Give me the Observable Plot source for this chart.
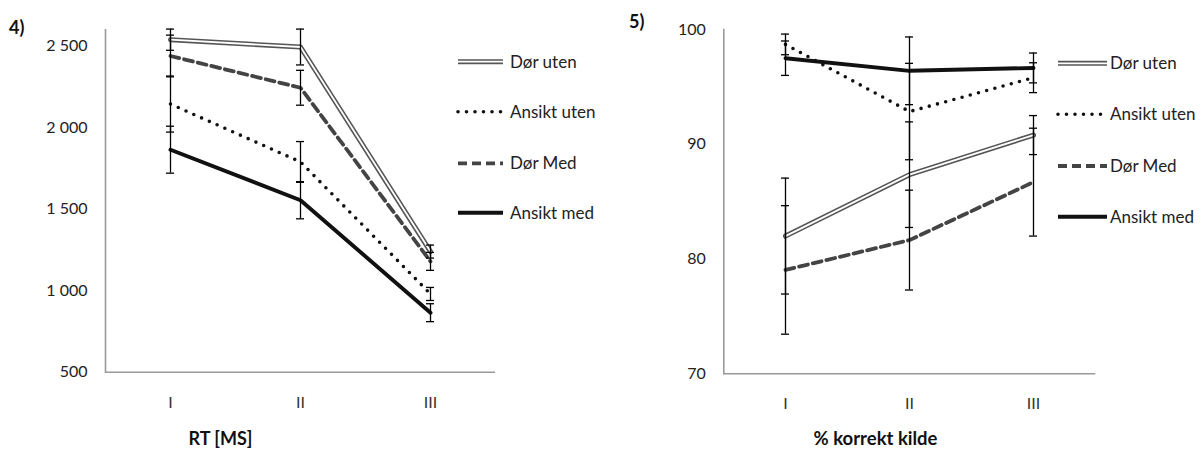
<!DOCTYPE html>
<html><head><meta charset="utf-8">
<script src="https://cdn.jsdelivr.net/npm/d3@7"></script>
<script src="https://cdn.jsdelivr.net/npm/@observablehq/plot@0.6"></script>
<style>
body{margin:0;background:#fff;}
#wrap{position:relative;width:1202px;height:450px;overflow:hidden;font-family:Lato,"Open Sans",sans-serif;background:#fff;}
#wrap > svg{position:absolute;top:0;}
</style></head><body><div id="wrap"></div>
<script>
// ---- data ----
const categories = ["I", "II", "III"];
const seriesNames = ["Dør uten", "Ansikt uten", "Dør Med", "Ansikt med"];

// Chart 4) RT [MS]
const rtDorUten    = [2540, 2495, 1240];
const rtAnsiktUten = [2145, 1790, 980];
const rtDorMed     = [2440, 2245, 1180];
const rtAnsiktMed  = [1865, 1555, 865];
const rtErrDorUten    = [65, 110, 40];
const rtErrAnsiktUten = [172, 125, 40];
const rtErrDorMed     = [128, 107, 55];
const rtErrAnsiktMed  = [144, 114, 55];
const rtTicks = [500, 1000, 1500, 2000, 2500];
const rtDomain = [500, 2600];

// Chart 5) % korrekt kilde
const pkDorUten    = [82.0, 87.35, 90.8];
const pkAnsiktUten = [98.7, 92.85, 95.8];
const pkDorMed     = [79.05, 81.65, 86.7];
const pkAnsiktMed  = [97.5, 96.4, 96.65];
const pkErrDorUten    = [5.05, 4.6, 1.7];
const pkErrAnsiktUten = [0.9, 4.2, 1.3];
const pkErrDorMed     = [5.6, 4.35, 4.7];
const pkErrAnsiktMed  = [1.5, 2.95, 1.3];
const pkTicks = [70, 80, 90, 100];
const pkDomain = [70, 100];

// ---- styles ----
const styles = {
  "Dør uten":    [{stroke: "#555", strokeWidth: 5}, {stroke: "#fff", strokeWidth: 1.8}],
  "Ansikt uten": [{stroke: "#111", strokeWidth: 3.6, strokeDasharray: "0 8.5", strokeLinecap: "round"}],
  "Dør Med":     [{stroke: "#444", strokeWidth: 3.8, strokeDasharray: "9 5"}],
  "Ansikt med":  [{stroke: "#111", strokeWidth: 3.9}]
};

function tidy(valueArrays, errArrays) {
  const rows = [];
  seriesNames.forEach((s, si) => {
    categories.forEach((c, ci) => {
      rows.push({series: s, cat: c, v: valueArrays[si][ci], e: errArrays[si][ci]});
    });
  });
  return rows;
}

const nb = d3.formatLocale({decimal: ",", thousands: "\u00a0", grouping: [3], currency: ["", ""]});
const fmtThousands = nb.format(",d");

function makeChart({rows, yDomain, yTicks, tickFormat, width, marginLeft, marginRight, marginTop, marginBottom, bandPx}) {
  const step = (width - marginLeft - marginRight) / categories.length;
  const pi = 1 - bandPx / step;
  const marks = [
    Plot.ruleY([yDomain[0]], {stroke: "#9a9a9a", strokeWidth: 1.6}),
    Plot.frame({anchor: "left", stroke: "#9a9a9a", strokeWidth: 1.6}),
    Plot.axisY({ticks: yTicks, tickSize: 0, tickPadding: 18, tickFormat, fill: "#222", fontSize: 16}),
    Plot.axisX({tickSize: 0, tickPadding: 24, fill: "#333", fontSize: 16})
  ];
  for (const s of seriesNames) {
    const data = rows.filter(d => d.series === s);
    for (const st of styles[s]) {
      marks.push(Plot.line(data, {x: "cat", y: "v", strokeLinejoin: "round", ...st}));
    }
  }
  for (const s of seriesNames) {
    const data = rows.filter(d => d.series === s);
    marks.push(Plot.ruleX(data, {x: "cat", y1: d => d.v - d.e, y2: d => d.v + d.e, stroke: "#000", strokeWidth: 1.3}));
    marks.push(Plot.tickY(data, {x: "cat", y: d => d.v - d.e, stroke: "#000", strokeWidth: 1.3}));
    marks.push(Plot.tickY(data, {x: "cat", y: d => d.v + d.e, stroke: "#000", strokeWidth: 1.3}));
  }
  return Plot.plot({
    width, height: 450, marginLeft, marginRight, marginTop, marginBottom,
    style: {fontFamily: "Lato, 'Open Sans', sans-serif", fontSize: "16px", background: "transparent", overflow: "visible"},
    x: {type: "band", domain: categories, paddingInner: pi, paddingOuter: pi / 2, align: 0.5, label: null},
    y: {domain: yDomain, label: null},
    marks
  });
}

const wrap = document.getElementById("wrap");

const left = makeChart({
  rows: tidy([rtDorUten, rtAnsiktUten, rtDorMed, rtAnsiktMed], [rtErrDorUten, rtErrAnsiktUten, rtErrDorMed, rtErrAnsiktMed]),
  yDomain: rtDomain, yTicks: rtTicks, tickFormat: fmtThousands,
  width: 600, marginLeft: 105, marginRight: 105, marginTop: 29.4, marginBottom: 78.3, bandPx: 8
});
left.style.left = "0px";
wrap.appendChild(left);

const right = makeChart({
  rows: tidy([pkDorUten, pkAnsiktUten, pkDorMed, pkAnsiktMed], [pkErrDorUten, pkErrAnsiktUten, pkErrDorMed, pkErrAnsiktMed]),
  yDomain: pkDomain, yTicks: pkTicks, tickFormat: d => String(d),
  width: 602, marginLeft: 123.3, marginRight: 106.7, marginTop: 29, marginBottom: 76.7, bandPx: 8
});
right.style.left = "600px";
wrap.appendChild(right);

// ---- overlay: panel labels, axis titles, legends ----
const ov = d3.select(wrap).append("svg")
  .attr("width", 1202).attr("height", 450)
  .style("left", "0px").style("font-family", "Lato, 'Open Sans', sans-serif");

ov.append("text").attr("x", 9).attr("y", 34).attr("font-weight", 700).attr("font-size", 18).attr("fill", "#111").text("4)");
ov.append("text").attr("x", 629).attr("y", 28).attr("font-weight", 700).attr("font-size", 18).attr("fill", "#111").text("5)");
ov.append("text").attr("x", 220.5).attr("y", 445).attr("text-anchor", "middle").attr("font-weight", 700).attr("font-size", 18).attr("fill", "#111").text("RT [MS]");
ov.append("text").attr("x", 875.5).attr("y", 445).attr("text-anchor", "middle").attr("font-weight", 700).attr("font-size", 18.5).attr("fill", "#111").text("% korrekt kilde");

function legend(x0, x1, tx, ys) {
  seriesNames.forEach((s, i) => {
    const y = ys[i];
    for (const st of styles[s]) {
      ov.append("line").attr("x1", x0).attr("x2", x1).attr("y1", y).attr("y2", y)
        .attr("stroke", st.stroke).attr("stroke-width", st.strokeWidth)
        .attr("stroke-dasharray", st.strokeDasharray || null)
        .attr("stroke-linecap", st.strokeLinecap || "butt");
    }
    ov.append("text").attr("x", tx).attr("y", y).attr("dy", "0.36em")
      .attr("font-size", 17).attr("fill", "#222").text(s);
  });
}
legend(458, 503, 510, [61.7, 111.7, 163.3, 212.7]);
legend(1058, 1107, 1110, [63.3, 114.3, 166, 216.7]);
</script></body></html>
